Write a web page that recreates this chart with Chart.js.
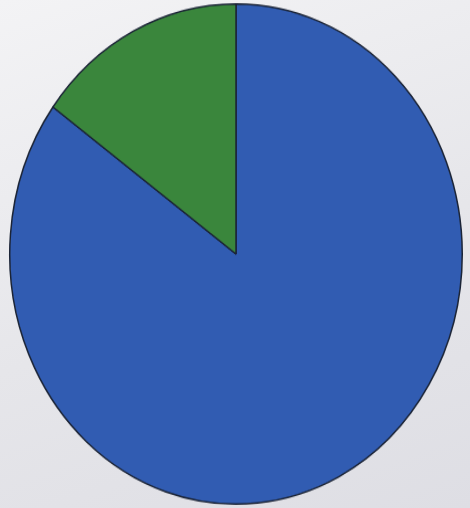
<!DOCTYPE html>
<html>
<head>
<meta charset="utf-8">
<script src="https://cdn.jsdelivr.net/npm/chart.js@4"></script>
<style>
  body { margin: 0; width: 470px; height: 508px; overflow: hidden;
         background: linear-gradient(160deg, #f3f3f5 0%, #e6e6ea 55%, #dedee4 100%); }
  #pie { position: absolute; left: 8px; top: 2px; width: 456px; height: 504px; }
</style>
</head>
<body>
<canvas id="pie" width="456" height="456" style="width:456px;height:504px"></canvas>
<script>
'use strict'

// Data
let sliceLabels = ['Blue', 'Green']
let sliceValues = [85, 15]
let sliceColors = ['rgb(49,92,178)', 'rgb(58,134,60)']

let ctx = document.getElementById('pie').getContext('2d')

// Pie
let pieChart = new Chart(ctx, {
    type: 'pie',
    data: {
        labels: sliceLabels,
        datasets: [{
            data: sliceValues,
            backgroundColor: sliceColors,
            borderColor: '#1b2436',
            borderWidth: 1.5
        }]
    },
    options: {
        responsive: false,
        animation: false,
        devicePixelRatio: 1,
        layout: { padding: 1 },
        plugins: {
            legend: { display: false },
            tooltip: { enabled: false }
        }
    }
})
</script>
</body>
</html>
